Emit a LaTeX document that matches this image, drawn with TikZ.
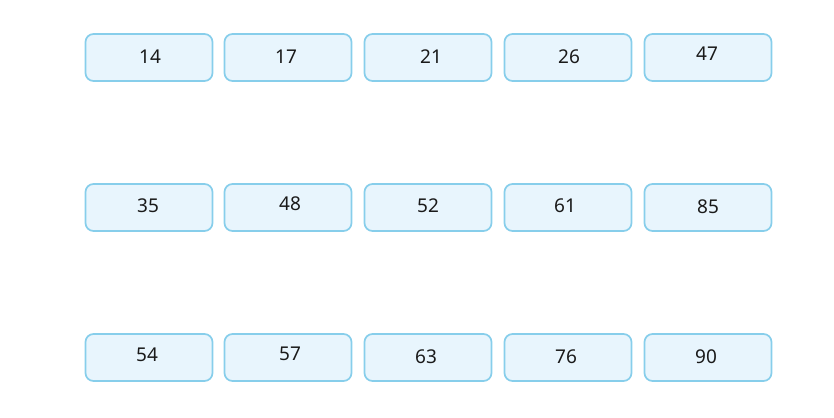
\documentclass[tikz,border=0pt]{standalone}
\usepackage{fontspec}
\setmainfont{Noto Sans}
\definecolor{boxline}{RGB}{135,206,235}
\definecolor{boxfill}{RGB}{232,245,253}
\definecolor{txt}{RGB}{26,26,26}
\begin{document}
\begin{tikzpicture}[x=1pt,y=-1pt,
  cell/.style={draw=boxline,fill=boxfill,line width=1.7pt,rounded corners=8pt,minimum width=127pt,minimum height=47pt,inner sep=0pt},
  lbl/.style={text=txt,font=\fontsize{19}{21}\selectfont,inner sep=0pt}]
\useasboundingbox (0,0) rectangle (834,417);
% row 1
\node[cell] (a1) at (149,57.5) {};
\node[cell] (a2) at (288,57.5) {};
\node[cell] (a3) at (428,57.5) {};
\node[cell] (a4) at (568,57.5) {};
\node[cell] (a5) at (708,57.5) {};
% row 2
\node[cell] (b1) at (149,207.5) {};
\node[cell] (b2) at (288,207.5) {};
\node[cell] (b3) at (428,207.5) {};
\node[cell] (b4) at (568,207.5) {};
\node[cell] (b5) at (708,207.5) {};
% row 3
\node[cell] (c1) at (149,357.5) {};
\node[cell] (c2) at (288,357.5) {};
\node[cell] (c3) at (428,357.5) {};
\node[cell] (c4) at (568,357.5) {};
\node[cell] (c5) at (708,357.5) {};
% labels
\node[lbl] (t14) at (150,57) {14};
\node[lbl] (t17) at (286,57) {17};
\node[lbl] (t21) at (431,57) {21};
\node[lbl] (t26) at (569,57) {26};
\node[lbl] (t47) at (707,54) {47};
\node[lbl] (t35) at (148,206) {35};
\node[lbl] (t48) at (290,204) {48};
\node[lbl] (t52) at (428,206) {52};
\node[lbl] (t61) at (565,206) {61};
\node[lbl] (t85) at (708,207) {85};
\node[lbl] (t54) at (147,355) {54};
\node[lbl] (t57) at (290,354) {57};
\node[lbl] (t63) at (426,357) {63};
\node[lbl] (t76) at (566,357) {76};
\node[lbl] (t90) at (706,357) {90};
\end{tikzpicture}
\end{document}
